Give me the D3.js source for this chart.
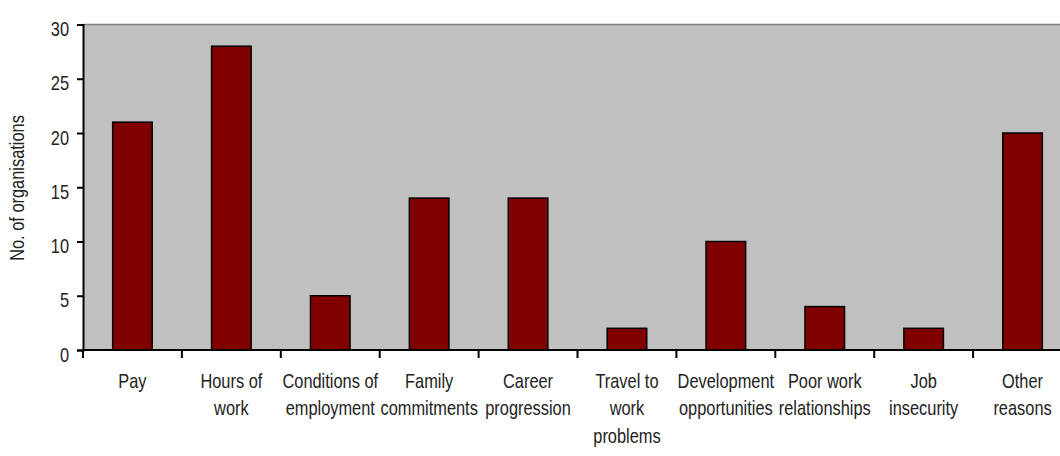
<!DOCTYPE html>
<html>
<head>
<meta charset="UTF-8">
<script src="https://d3js.org/d3.v7.min.js"></script>
<style>
  body { margin:0; background:#fff; }
  text { font-family:"Liberation Sans",Arial,sans-serif; fill:#222; }
</style>
</head>
<body>
<div id="chart"></div>
<script>
// data
var categories = ["Pay","Hours of work","Conditions of employment","Family commitments","Career progression",
  "Travel to work problems","Development opportunities","Poor work relationships","Job insecurity","Other reasons"];
var labelLines = [["Pay"],["Hours of","work"],["Conditions of","employment"],["Family","commitments"],["Career","progression"],
  ["Travel to","work","problems"],["Development","opportunities"],["Poor work","relationships"],["Job","insecurity"],["Other","reasons"]];
var values = [21,28,5,14,14,2,10,4,2,20];
var yTicks = [0,5,10,15,20,25,30];

var width = 1060, height = 456;
var mLeft = 83, mTop = 24.5, mBottom = 350, plotW = 989;
var narrow = 'scale(0.82,1)'; // no Arial Narrow installed, squeeze Liberation Sans

var svg = d3.select('#chart').append('svg')
  .attr('width', width).attr('height', height);

var x = d3.scaleBand()
  .domain(categories)
  .range([mLeft, mLeft + plotW])
  .paddingInner(0.6).paddingOuter(0.3);
var y = d3.scaleLinear().domain([0,30]).range([mBottom, mTop]);

// plot area
svg.append('rect')
  .attr('x', mLeft).attr('y', mTop)
  .attr('width', plotW).attr('height', mBottom - mTop)
  .attr('fill', '#c0c0c0');
svg.append('line')
  .attr('x1', mLeft).attr('x2', mLeft + plotW)
  .attr('y1', mTop).attr('y2', mTop)
  .attr('stroke', '#808080').attr('stroke-width', 1.5);

// bars
svg.selectAll('.bar').data(values).enter().append('rect')
  .attr('class','bar')
  .attr('x', function(d,i){ return x(categories[i]); })
  .attr('y', function(d){ return y(d); })
  .attr('width', x.bandwidth())
  .attr('height', function(d){ return y(0) - y(d); })
  .attr('fill', '#800000')
  .attr('stroke', '#000').attr('stroke-width', 1.5);

// y axis
var yAxis = d3.axisLeft(y).tickValues(yTicks).tickSize(6);
var gy = svg.append('g').attr('transform', 'translate(' + mLeft + ',0)').call(yAxis);
gy.select('.domain').attr('stroke', '#000').attr('stroke-width', 2);
gy.selectAll('.tick line').attr('stroke', '#000').attr('stroke-width', 2);
gy.selectAll('.tick text')
  .attr('x', 0).attr('dy', '0.35em')
  .attr('transform', 'translate(-14,4) ' + narrow)
  .attr('font-size', 20).attr('fill', '#222')
  .style('font-family', '"Liberation Sans",Arial,sans-serif');

// x axis: line, ticks between categories, labels
var step = x.step();
svg.append('line')
  .attr('x1', mLeft).attr('x2', mLeft + plotW)
  .attr('y1', mBottom).attr('y2', mBottom)
  .attr('stroke', '#000').attr('stroke-width', 2);
svg.selectAll('.xtick').data(d3.range(categories.length + 1)).enter().append('line')
  .attr('class','xtick')
  .attr('x1', function(i){ return mLeft + i * step; })
  .attr('x2', function(i){ return mLeft + i * step; })
  .attr('y1', mBottom).attr('y2', mBottom + 8)
  .attr('stroke', '#000').attr('stroke-width', 2);

var lab = svg.selectAll('.xlab').data(labelLines).enter().append('text')
  .attr('class','xlab')
  .attr('text-anchor','middle')
  .attr('font-size', 20)
  .attr('transform', function(d,i){ return 'translate(' + (x(categories[i]) + x.bandwidth()/2) + ',388) ' + narrow; });
lab.selectAll('tspan').data(function(d){ return d; }).enter().append('tspan')
  .attr('x', 0)
  .attr('y', function(d,j){ return j * 27.5; })
  .text(function(d){ return d; });

// y label
svg.append('text')
  .attr('transform', 'translate(24,188) rotate(-90) ' + narrow)
  .attr('text-anchor', 'middle')
  .attr('font-size', 20)
  .text('No. of organisations');
</script>
</body>
</html>
